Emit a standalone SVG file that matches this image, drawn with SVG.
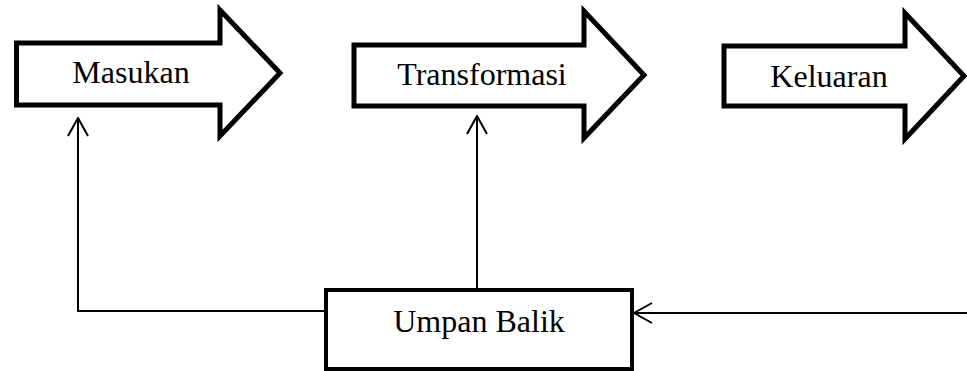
<svg xmlns="http://www.w3.org/2000/svg" width="967" height="371" viewBox="0 0 967 371">
<style>
.big{fill:#fff;stroke:#000;stroke-width:5;stroke-linejoin:miter;stroke-miterlimit:10}
.box{fill:#fff;stroke:#000;stroke-width:4}
.ln{fill:none;stroke:#000;stroke-width:2}
.t{font-family:"Liberation Serif","Times New Roman",serif;font-size:32px;fill:#000;text-anchor:middle}
</style>
<defs>
<marker id="open" viewBox="0 0 20 22" refX="19" refY="11" markerWidth="20" markerHeight="22" markerUnits="userSpaceOnUse" orient="auto">
<path d="M1,1 L19,11 L1,21" fill="none" stroke="#000" stroke-width="2"/>
</marker>
</defs>
<g id="connectors">
<polyline class="ln" points="326,311 78,311 78,118" marker-end="url(#open)"/>
<line class="ln" x1="477" y1="290" x2="477" y2="116" marker-end="url(#open)"/>
<line class="ln" x1="967" y1="313" x2="634" y2="313" marker-end="url(#open)"/>
</g>
<g id="masukan">
<polygon class="big" points="16.5,43 220,43 220,10 280,73 220,136 220,105 16.5,105"/>
<text class="t" x="131" y="83">Masukan</text>
</g>
<g id="transformasi">
<polygon class="big" points="354,45 584,45 584,11 644,75 584,138 584,106 354,106"/>
<text class="t" x="482" y="85">Transformasi</text>
</g>
<g id="keluaran">
<polygon class="big" points="724,46 905,46 905,13 964,76 905,139 905,106 724,106"/>
<text class="t" x="829" y="87">Keluaran</text>
</g>
<g id="umpan-balik">
<rect class="box" x="326" y="290" width="306" height="79"/>
<text class="t" x="479" y="332">Umpan Balik</text>
</g>
</svg>
